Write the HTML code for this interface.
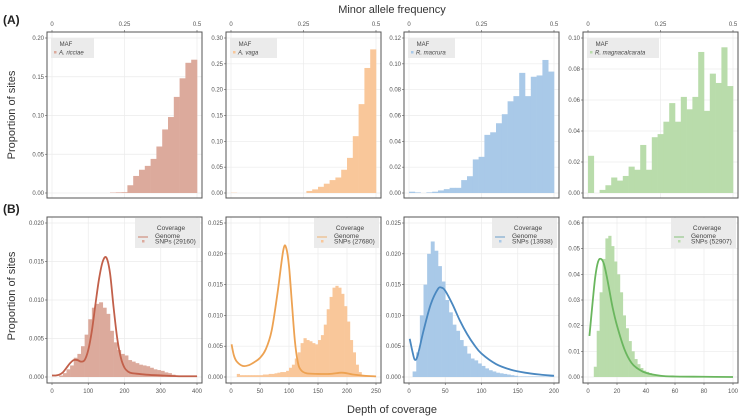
<!DOCTYPE html>
<html><head><meta charset="utf-8"><style>
body{margin:0;background:#fff;}
svg{display:block;font-family:"Liberation Sans",sans-serif;}
</style></head><body>
<svg id="c" width="740" height="417" viewBox="0 0 740 417" xmlns="http://www.w3.org/2000/svg">
<text x="392" y="13" font-size="11" fill="#333" text-anchor="middle">Minor allele frequency</text>
<text x="392" y="413" font-size="11" fill="#333" text-anchor="middle">Depth of coverage</text>
<text x="3" y="24" font-size="12" font-weight="bold" fill="#222">(A)</text>
<text x="3" y="213" font-size="12" font-weight="bold" fill="#222">(B)</text>
<text transform="translate(15,115) rotate(-90)" font-size="11" fill="#333" text-anchor="middle">Proportion of sites</text>
<text transform="translate(15,296) rotate(-90)" font-size="11" fill="#333" text-anchor="middle">Proportion of sites</text>
</svg>
<script>
const species=["A. ricciae","A. vaga","R. macrura","R. magnacalcarata"];
const snpCounts=["29160","27680","13938","52907"];
const barColors=["#dcaa9c","#f9c79a","#a9c9e8","#b9dcab"];
const lineColors=["#c2604a","#eda252","#4a88c0","#6ab65e"];
const mafBinWidth=0.02;
const maf0=[0,0,0,0,0,0,0,0,0,0,0.0005,0.0008,0.001,0.010,0.022,0.030,0.035,0.044,0.060,0.082,0.098,0.124,0.148,0.168,0.172];
const maf1=[0.0005,0,0,0,0,0,0,0,0,0,0,0,0,0.004,0.007,0.012,0.018,0.025,0.030,0.045,0.068,0.110,0.172,0.242,0.278];
const maf2=[0.001,0.0005,0,0.0005,0.001,0.002,0.003,0.004,0.004,0.010,0.013,0.026,0.028,0.045,0.047,0.054,0.061,0.071,0.075,0.093,0.075,0.090,0.091,0.103,0.094];
const maf3=[0.024,0,0.002,0.005,0.010,0.008,0.011,0.017,0.015,0.031,0.015,0.036,0.038,0.046,0.058,0.046,0.062,0.054,0.062,0.091,0.053,0.077,0.071,0.094,0.069];
const mafYMax=[0.2,0.3,0.12,0.1];
const mafYTicks=[[0,0.05,0.1,0.15,0.2],[0,0.05,0.1,0.15,0.2,0.25,0.3],[0,0.02,0.04,0.06,0.08,0.1,0.12],[0,0.02,0.04,0.06,0.08,0.1]];
const mafYLabels=[["0.00","0.05","0.10","0.15","0.20"],["0.00","0.05","0.10","0.15","0.20","0.25","0.30"],["0.00","0.02","0.04","0.06","0.08","0.10","0.12"],["0.00","0.02","0.04","0.06","0.08","0.10"]];
const mafXTicks=[0,0.25,0.5];
const mafXLabels=["0","0.25","0.5"];
const covBinWidth=[10,5,5,2];
const cov0=[0,0,0.0002,0.0005,0.001,0.0015,0.0025,0.003,0.004,0.0055,0.0075,0.009,0.0095,0.0097,0.009,0.0082,0.006,0.0045,0.0035,0.003,0.0028,0.0022,0.002,0.0018,0.0016,0.0015,0.0014,0.0012,0.001,0.0009,0.0008,0.0006,0.0005,0.0003,0.0002,0.0001,0.0001,0.0001,0.0001,0.0001];
const cov1=[0,0,0.0005,0.0003,0.0003,0.0003,0.0003,0.0003,0.0003,0.0003,0.0003,0.0004,0.0004,0.0005,0.0005,0.0006,0.0007,0.0008,0.0008,0.001,0.0015,0.002,0.003,0.004,0.0055,0.0063,0.006,0.0058,0.0055,0.0053,0.006,0.0068,0.0085,0.011,0.013,0.0145,0.0148,0.0145,0.0135,0.0115,0.009,0.006,0.004,0.002,0.0008,0.0003,0.0001,0.0001,0.0001,0.0001];
const cov2=[0,0.0009,0.004,0.010,0.015,0.020,0.022,0.0205,0.018,0.0155,0.0125,0.0105,0.0085,0.0075,0.006,0.005,0.0038,0.003,0.0027,0.0022,0.0018,0.0014,0.0011,0.0009,0.0007,0.0006,0.0005,0.0004,0.0003,0.0002,0.0001,0.0001,0.0001,0.0001,0.0001,0.0001,0.0001,0.0001,0.0001,0.0001];
const cov3=[0,0,0.004,0.018,0.033,0.046,0.054,0.055,0.051,0.045,0.040,0.033,0.024,0.019,0.014,0.010,0.007,0.005,0.0035,0.0025,0.002,0.0015,0.001,0.0008,0.0006,0.0005,0.0004,0.0003,0.0002,0.0002,0.0001,0.0001,0.0001,0.0001,0.0001,0.0001,0.0001,0.0001,0.0001,0.0001];
const gx0=[0,10,20,30,40,50,60,70,80,90,100,110,120,130,140,150,160,170,180,190,200,210,220,240,260,300,350,400];
const gy0=[0.0002,0.0002,0.0003,0.0006,0.0012,0.0018,0.0022,0.0022,0.002,0.0022,0.0035,0.006,0.0095,0.0128,0.015,0.0155,0.0135,0.009,0.005,0.0025,0.0012,0.0007,0.0005,0.0004,0.0003,0.0002,0.0001,0.0001];
const gx1=[1,5,10,20,30,40,50,60,70,80,90,95,100,105,110,115,120,130,150,170,190,200,210,230,250];
const gy1=[0.0053,0.0035,0.0025,0.0018,0.0019,0.0024,0.0031,0.0045,0.0075,0.0135,0.0205,0.021,0.018,0.012,0.006,0.0025,0.0012,0.0006,0.0005,0.0005,0.0007,0.0006,0.0004,0.0002,0.0001];
const gx2=[1,5,8,12,20,30,40,45,50,60,70,80,90,100,120,140,160,180,200];
const gy2=[0.0062,0.004,0.0028,0.0035,0.0075,0.0118,0.0143,0.0145,0.014,0.0118,0.0092,0.007,0.0052,0.0038,0.0021,0.0012,0.0007,0.0004,0.0002];
const gx3=[1,3,5,7,9,11,13,15,17,20,25,30,35,40,50,60,80,100];
const gy3=[0.016,0.028,0.039,0.045,0.046,0.044,0.039,0.033,0.027,0.020,0.011,0.0055,0.003,0.0016,0.0005,0.0002,0.0001,0];
const covXMax=[400,250,200,100];
const covXTicks=[[0,100,200,300,400],[0,50,100,150,200,250],[0,50,100,150,200],[0,20,40,60,80,100]];
const covYMax=[0.02,0.025,0.025,0.06];
const covYTicks=[[0,0.005,0.01,0.015,0.02],[0,0.005,0.01,0.015,0.02,0.025],[0,0.005,0.01,0.015,0.02,0.025],[0,0.01,0.02,0.03,0.04,0.05,0.06]];
const covYLabels=[["0.000","0.005","0.010","0.015","0.020"],["0.000","0.005","0.010","0.015","0.020","0.025"],["0.000","0.005","0.010","0.015","0.020","0.025"],["0.00","0.01","0.02","0.03","0.04","0.05","0.06"]];

const mafs=[maf0,maf1,maf2,maf3];
const covs=[cov0,cov1,cov2,cov3];
const gxs=[gx0,gx1,gx2,gx3];
const gys=[gy0,gy1,gy2,gy3];

const NS="http://www.w3.org/2000/svg";
const svg=document.getElementById('c');
function mk(tag,attrs,parent,txt){const e=document.createElementNS(NS,tag);for(const k in attrs)e.setAttribute(k,attrs[k]);if(txt!==undefined)e.textContent=txt;(parent||svg).appendChild(e);return e;}

const x0s=[52,231,409,588];
const pw=145;
function panel(i,row){
  const px0=x0s[i], px1=px0+pw;
  const yTop=row===0?38:223, yBot=row===0?193:377;
  const g=mk('g',{});
  
  
  const xmax=row===0?0.5:covXMax[i];
  const ymax=row===0?mafYMax[i]:covYMax[i];
  const sx=v=>px0+v/xmax*pw;
  const sy=v=>yBot-v/ymax*(yBot-yTop);
  const boxT=row===0?32:217, boxB=row===0?198:383;
  const xt=row===0?mafXTicks:covXTicks[i];
  const yt=row===0?mafYTicks[i]:covYTicks[i];
  const yl=row===0?mafYLabels[i]:covYLabels[i];
  xt.forEach(v=>mk('line',{x1:sx(v),x2:sx(v),y1:boxT,y2:boxB,stroke:'#ebebeb','stroke-width':0.7},g));
  yt.forEach(v=>mk('line',{x1:px0-5,x2:px1+5,y1:sy(v),y2:sy(v),stroke:'#ebebeb','stroke-width':0.7},g));
  if(row===0){
    mafs[i].forEach((v,k)=>{if(v<=0)return;const b=mk('rect',{x:sx(k*mafBinWidth),y:sy(v),width:sx(mafBinWidth)-sx(0)+0.3,height:yBot-sy(v),fill:barColors[i]},g);
      
      });
  } else {
    const bw=covBinWidth[i];
    covs[i].forEach((v,k)=>{if(v<=0)return;const b=mk('rect',{x:sx(k*bw),y:sy(v),width:sx(bw)-sx(0)+0.3,height:yBot-sy(v),fill:barColors[i]},g);
      
      });
    const pts=gxs[i].map((x,k)=>[sx(x),sy(gys[i][k])]);
    let d='M'+pts[0][0]+','+pts[0][1];
    for(let k=0;k<pts.length-1;k++){const p0=pts[Math.max(0,k-1)],p1=pts[k],p2=pts[k+1],p3=pts[Math.min(pts.length-1,k+2)];
      d+=' C'+(p1[0]+(p2[0]-p0[0])/6)+','+(p1[1]+(p2[1]-p0[1])/6)+' '+(p2[0]-(p3[0]-p1[0])/6)+','+(p2[1]-(p3[1]-p1[1])/6)+' '+p2[0]+','+p2[1];}
    const ln=mk('path',{d:d,fill:'none',stroke:lineColors[i],'stroke-width':1.8},g);
    
    
  }
  mk('rect',{x:px0-5,y:boxT,width:pw+10,height:boxB-boxT,fill:'none',stroke:'#555','stroke-width':1},g);
  xt.forEach((v,k)=>{
    if(row===0){mk('line',{x1:sx(v),x2:sx(v),y1:boxT,y2:boxT-2,stroke:'#555','stroke-width':0.6},g);
      const t=mk('text',{x:sx(v),y:boxT-6,'font-size':6,fill:'#555','text-anchor':'middle'},g,mafXLabels[k]);
      
      }
    else {mk('line',{x1:sx(v),x2:sx(v),y1:boxB,y2:boxB+2,stroke:'#555','stroke-width':0.6},g);
      const t=mk('text',{x:sx(v),y:boxB+10,'font-size':6,fill:'#555','text-anchor':'middle'},g,String(v));
      
      }
  });
  yt.forEach((v,k)=>{mk('line',{x1:px0-5,x2:px0-7,y1:sy(v),y2:sy(v),stroke:'#555','stroke-width':0.6},g);
    const t=mk('text',{x:px0-8,y:sy(v)+2,'font-size':6,fill:'#555','text-anchor':'end'},g,yl[k]);
    
    });
  const lg=mk('g',{},g);
  
  
  if(row===0){
    const w=i===3?72:(i===0?43:47);
    mk('rect',{x:px0-1,y:38,width:w,height:20,fill:'#ebebeb'},lg);
    mk('text',{x:px0+14,y:46,'font-size':6,fill:'#444','text-anchor':'middle'},lg,'MAF');
    mk('rect',{x:px0+2,y:51,width:2.5,height:2.5,fill:barColors[i]},lg);
    mk('text',{x:px0+7,y:54.5,'font-size':6,fill:'#444','font-style':'italic'},lg,species[i]);
  } else {
    const lx=px1-62;
    mk('rect',{x:lx,y:218,width:65,height:30,fill:'#ebebeb'},lg);
    mk('text',{x:lx+36,y:230,'font-size':6.5,fill:'#444','text-anchor':'middle'},lg,'Coverage');
    mk('line',{x1:lx+3,x2:lx+13,y1:237,y2:237,stroke:lineColors[i],'stroke-width':0.8},lg);
    mk('text',{x:lx+20,y:238,'font-size':6.5,fill:'#444'},lg,'Genome');
    mk('rect',{x:lx+7,y:240,width:2.5,height:2.5,fill:barColors[i]},lg);
    mk('text',{x:lx+20,y:243.5,'font-size':6.5,fill:'#444'},lg,'SNPs ('+snpCounts[i]+')');
  }
}
for(let i=0;i<4;i++){panel(i,0);panel(i,1);}
</script>
</body></html>
